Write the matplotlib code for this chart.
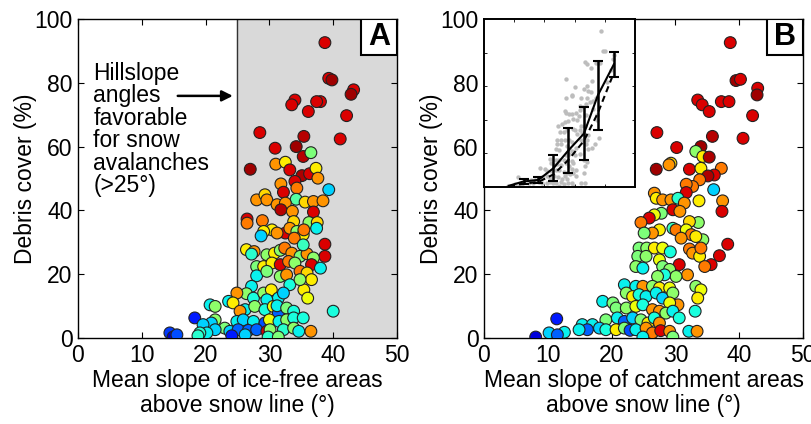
import matplotlib
matplotlib.use("Agg")
import matplotlib.pyplot as plt
from matplotlib.patches import Rectangle

plt.rcParams['font.family'] = ['Liberation Sans', 'DejaVu Sans']

# panel A: mean slope of ice-free areas above snow line vs debris cover
slope_a = [38.7, 39.3, 39.8, 43.2, 42.8, 38.0, 37.4, 34.0, 33.5, 36.1,
           42.1, 28.5, 41.1, 35.4, 34.2, 30.9, 35.3, 36.5, 27.0, 31.0,
           32.5, 33.2, 35.1, 36.3, 37.3, 37.6, 34.0, 31.8, 32.2, 34.3,
           34.2, 28.0, 29.3, 29.6, 31.2, 32.5, 35.6, 36.9, 38.4, 39.3,
           31.8, 33.6, 36.9, 26.5, 26.5, 28.9, 33.8, 36.2, 37.5, 37.4,
           30.4, 29.1, 28.7, 32.5, 33.2, 31.2, 34.3, 35.3, 35.4, 33.9,
           38.7, 26.4, 27.6, 27.2, 29.6, 30.8, 31.7, 32.4, 33.5, 34.8,
           35.9, 35.3, 38.7, 36.9, 28.0, 29.1, 30.4, 31.7, 33.0, 34.0,
           36.6, 38.0, 28.0, 29.6, 31.7, 32.7, 33.2, 34.8, 35.9, 36.6,
           35.4, 36.0, 34.8, 27.2, 26.4, 27.5, 29.1, 30.3, 31.4, 32.2,
           29.6, 24.9, 23.6, 20.7, 21.5, 24.3, 40.0, 26.2, 25.4, 27.7,
           29.3, 30.6, 31.4, 31.2, 32.7, 33.8, 21.5, 18.3, 20.9, 19.6,
           24.9, 25.9, 27.5, 29.3, 30.0, 31.5, 32.7, 33.8, 35.3, 23.0,
           23.8, 21.5, 20.2, 19.1, 25.1, 26.7, 28.0, 29.6, 30.1, 32.2,
           33.8, 34.6, 36.5, 24.1, 26.2, 29.8, 31.4, 14.4, 14.9, 15.5,
           18.8]
debris_a = [92.6, 81.4, 80.9, 77.8, 76.4, 74.1, 74.1, 74.6, 73.1, 71.0,
            69.7, 64.4, 62.4, 63.2, 60.0, 59.5, 56.9, 58.1, 52.9, 54.5,
            55.1, 52.7, 50.9, 51.5, 53.2, 50.1, 49.1, 48.3, 45.7, 47.0,
            43.5, 43.3, 44.9, 43.3, 41.8, 42.3, 42.6, 42.8, 43.0, 46.5,
            40.2, 39.7, 39.5, 37.3, 36.0, 36.8, 36.5, 36.2, 36.2, 34.4,
            33.9, 33.4, 32.0, 32.9, 34.4, 32.9, 33.4, 32.4, 33.9, 31.3,
            29.4, 27.7, 27.1, 26.3, 26.1, 26.6, 27.5, 28.2, 26.6, 25.6,
            26.4, 29.2, 25.6, 25.1, 22.4, 22.4, 23.5, 23.0, 24.0, 23.5,
            23.0, 21.9, 19.5, 20.9, 19.3, 19.8, 16.7, 20.9, 20.4, 18.3,
            15.1, 12.5, 18.3, 16.2, 13.9, 12.5, 14.1, 15.1, 12.5, 14.1,
            12.0, 14.1, 11.5, 10.4, 9.9, 11.0, 8.4, 8.9, 8.4, 9.9,
            8.9, 9.9, 7.8, 10.1, 9.4, 8.4, 5.7, 6.3, 4.7, 4.2,
            5.2, 5.7, 5.2, 4.7, 5.7, 5.2, 5.7, 6.3, 6.3, 3.1,
            2.1, 2.6, 1.6, 1.6, 2.6, 2.4, 2.6, 2.1, 2.6, 2.6,
            3.1, 2.1, 2.1, 0.7, 1.0, 0.3, 0.3, 1.6, 0.3, 1.0,
            0.7]
color_a = [.92, .92, .97, .92, .97, .92, .92, .92, .92, .92,
           .92, .92, .92, .95, .97, .92, .95, .50, .97, .75,
           .66, .92, .96, .92, .66, .75, .92, .75, .92, .78,
           .45, .75, .68, .75, .75, .75, .68, .75, .75, .33,
           .95, .75, .92, .92, .78, .78, .68, .52, .68, .36,
           .66, .66, .33, .92, .75, .75, .52, .66, .78, .78,
           .92, .66, .75, .40, .52, .66, .52, .78, .75, .50,
           .75, .42, .92, .52, .50, .66, .66, .92, .78, .52,
           .92, .36, .36, .50, .52, .75, .38, .78, .68, .66,
           .66, .64, .52, .36, .52, .38, .52, .66, .36, .33,
           .36, .75, .36, .36, .52, .66, .38, .36, .75, .52,
           .38, .64, .22, .36, .50, .38, .52, .15, .33, .33,
           .36, .33, .36, .20, .64, .36, .52, .38, .38, .50,
           .33, .33, .36, .40, .22, .22, .22, .92, .52, .40,
           .52, .36, .75, .15, .33, .40, .50, .18, .06, .20,
           .40]

# panel B: mean slope of catchment areas above snow line vs debris cover
slope_b = [38.6, 39.5, 40.2, 42.9, 42.8, 37.2, 38.4, 33.5, 34.2, 35.3,
           27.1, 40.6, 42.1, 35.8, 30.2, 34.0, 33.2, 34.3, 35.3, 27.0,
           29.3, 29.0, 32.2, 34.0, 37.2, 36.1, 35.1, 33.8, 32.7, 31.7,
           31.7, 36.0, 37.4, 33.7, 26.7, 27.0, 28.0, 29.3, 30.4, 31.4,
           37.3, 29.6, 30.7, 27.8, 26.7, 25.9, 24.6, 33.6, 32.2, 27.5,
           26.4, 25.1, 29.6, 30.1, 31.7, 32.5, 34.3, 33.2, 30.9, 38.2,
           24.3, 25.5, 26.7, 28.0, 29.2, 32.2, 32.7, 33.8, 34.0, 36.9,
           35.6, 34.6, 24.1, 25.4, 27.5, 23.8, 24.9, 28.0, 30.6, 29.1,
           31.9, 30.1, 28.3, 27.2, 33.2, 34.0, 33.5, 33.1, 22.0, 23.8,
           24.9, 26.4, 27.5, 29.1, 18.6, 20.2, 22.3, 23.3, 24.3, 25.4,
           27.0, 28.0, 29.6, 30.4, 29.1, 20.7, 22.3, 23.8, 24.9, 26.4,
           27.5, 28.5, 29.6, 30.6, 19.1, 20.9, 22.0, 23.3, 24.6, 25.7,
           26.7, 27.5, 11.4, 15.4, 17.0, 18.1, 19.1, 20.7, 22.0, 22.9,
           23.8, 25.4, 26.4, 27.7, 29.1, 16.2, 14.9, 10.2, 12.6, 11.5,
           8.1, 24.9, 29.6, 32.1, 33.4]
debris_b = [92.6, 80.7, 81.1, 78.3, 76.2, 74.1, 74.1, 74.6, 73.1, 71.0,
            64.4, 62.6, 69.7, 63.2, 59.7, 60.0, 58.5, 56.9, 56.7, 52.9,
            54.8, 54.3, 52.9, 53.2, 53.2, 51.1, 50.8, 49.6, 47.5, 48.2,
            45.6, 46.5, 43.0, 43.0, 45.4, 43.8, 43.3, 43.3, 43.8, 42.3,
            39.7, 40.2, 39.7, 39.1, 38.6, 37.6, 36.2, 36.2, 36.5, 33.9,
            32.9, 32.9, 34.4, 33.9, 33.9, 32.4, 30.8, 31.8, 31.3, 29.4,
            28.2, 28.2, 28.2, 28.2, 27.0, 27.9, 26.6, 25.6, 28.2, 25.8,
            23.0, 22.4, 25.6, 25.6, 24.5, 22.4, 21.9, 22.4, 23.0, 21.5,
            19.8, 19.3, 19.8, 19.3, 16.2, 15.1, 12.5, 8.4, 16.7, 16.2,
            16.2, 16.2, 15.7, 15.7, 11.5, 11.0, 14.1, 13.0, 13.6, 13.0,
            14.1, 12.5, 14.1, 10.4, 11.0, 9.4, 9.4, 9.9, 10.4, 8.9,
            8.4, 7.8, 8.4, 6.3, 5.7, 6.3, 5.2, 6.3, 5.7, 4.7,
            6.3, 4.7, 6.0, 4.2, 4.2, 3.1, 2.6, 2.6, 3.1, 2.4,
            2.6, 3.1, 1.6, 2.3, 2.1, 2.6, 2.6, 1.6, 1.8, 1.0,
            0.3, 0.3, 0.3, 2.1, 2.1]
color_b = [.92, .97, .92, .92, .97, .92, .92, .92, .92, .92,
           .92, .92, .92, .95, .92, .97, .52, .66, .96, .97,
           .68, .75, .92, .66, .78, .92, .96, .78, .78, .78,
           .92, .33, .75, .66, .75, .66, .75, .75, .40, .75,
           .92, .92, .75, .50, .64, .92, .78, .52, .68, .66,
           .75, .50, .42, .78, .64, .78, .52, .66, .75, .92,
           .50, .52, .66, .64, .38, .78, .75, .66, .78, .92,
           .92, .78, .50, .52, .64, .52, .36, .50, .92, .52,
           .75, .52, .38, .52, .52, .64, .66, .38, .36, .36,
           .75, .52, .66, .64, .36, .50, .52, .66, .38, .36,
           .36, .33, .52, .75, .64, .50, .52, .64, .38, .75,
           .75, .52, .36, .38, .50, .36, .22, .33, .50, .66,
           .38, .75, .15, .36, .36, .33, .38, .66, .50, .20,
           .36, .75, .78, .92, .75, .22, .36, .33, .36, .22,
           .08, .36, .50, .36, .75]

# inset of panel B: binned means with spread, and fitted curve
bin_x = [8.2, 13.1, 18.0, 23.0, 27.9, 33.1, 37.7, 43.0]
bin_mean = [0.7, 3.3, 4.2, 11.2, 21.7, 31.8, 54.6, 73.0]
bin_err = [0.0, 1.5, 2.0, 7.9, 13.4, 16.0, 20.6, 7.6]
fit_y = [0.5, 2.0, 3.0, 7.5, 16.0, 27.5, 44.0, 68.0]

W, H = 812, 424
fig = plt.figure(figsize=(W / 100, H / 100), dpi=100)
ax_a = fig.add_axes([78 / W, 86 / H, 319 / W, 319 / H])
ax_b = fig.add_axes([484 / W, 86 / H, 319 / W, 319 / H])

FS = 16.5


def style_axes(ax, xlabel):
    ax.set_xlim(0, 50)
    ax.set_ylim(0, 100)
    ax.set_xticks(range(0, 51, 10))
    ax.set_yticks(range(0, 101, 20))
    ax.tick_params(direction='in', top=True, right=True, length=4,
                   width=0.8, labelsize=FS, pad=4)
    for s in ax.spines.values():
        s.set_linewidth(1.0)
    ax.set_xlabel(xlabel, fontsize=FS, labelpad=2, linespacing=1.12)
    ax.set_ylabel('Debris cover (%)', fontsize=FS, labelpad=-2)


def panel_label(ax, letter):
    size = 36 / 319
    ax.add_patch(Rectangle((1 - size, 1 - size), size, size, transform=ax.transAxes,
                           facecolor='white', edgecolor='black', lw=1.5, zorder=10))
    ax.text(1 - size / 2, 1 - size / 2, letter, transform=ax.transAxes,
            ha='center', va='center', fontsize=22, fontweight='bold', zorder=11)


# panel A
ax_a.axvspan(25, 50, color='#d9d9d9', zorder=0)
ax_a.axvline(25, color='#333333', lw=1.0, zorder=1)
ax_a.scatter(slope_a, debris_a, c=color_a, cmap='jet', vmin=0, vmax=1, s=72,
             edgecolors='#222222', linewidths=0.8, zorder=3)
ax_a.text(2.4, 86.6, 'Hillslope\nangles\nfavorable\nfor snow\navalanches\n(>25°)',
          fontsize=FS, va='top', ha='left', linespacing=0.97)
ax_a.annotate('', xy=(24.7, 75.9), xytext=(15.2, 75.9),
              arrowprops=dict(arrowstyle='-|>', color='black', lw=1.8,
                              mutation_scale=16))
style_axes(ax_a, 'Mean slope of ice-free areas\nabove snow line (°)')
panel_label(ax_a, 'A')

# panel B
ax_b.scatter(slope_b, debris_b, c=color_b, cmap='jet', vmin=0, vmax=1, s=72,
             edgecolors='#222222', linewidths=0.8, zorder=3)
style_axes(ax_b, 'Mean slope of catchment areas\nabove snow line (°)')
panel_label(ax_b, 'B')

ins = ax_b.inset_axes([0, 1 - 168 / 319, 151 / 319, 168 / 319])
ins.set_facecolor('white')
ins.set_zorder(5)
ins.scatter(slope_b, debris_b, s=10, color='#bdbdbd', linewidths=0, zorder=1)
ins.plot(bin_x, fit_y, color='black', lw=1.5, ls=(0, (3, 2)), zorder=2)
ins.plot(bin_x, bin_mean, color='black', lw=1.5, zorder=3)
ins.errorbar(bin_x[1:], bin_mean[1:], yerr=bin_err[1:], fmt='none',
             ecolor='black', elinewidth=1.8, capsize=3.5, capthick=1.5, zorder=4)
ins.set_xlim(0, 50)
ins.set_ylim(0, 100)
ins.set_xticks([10, 20, 30, 40])
ins.set_yticks([20, 40, 60, 80])
ins.tick_params(direction='in', top=True, right=True, length=2.5, width=0.6,
                labelbottom=False, labelleft=False)
for s in ins.spines.values():
    s.set_linewidth(1.4)

fig.savefig('out.png', dpi=100)
